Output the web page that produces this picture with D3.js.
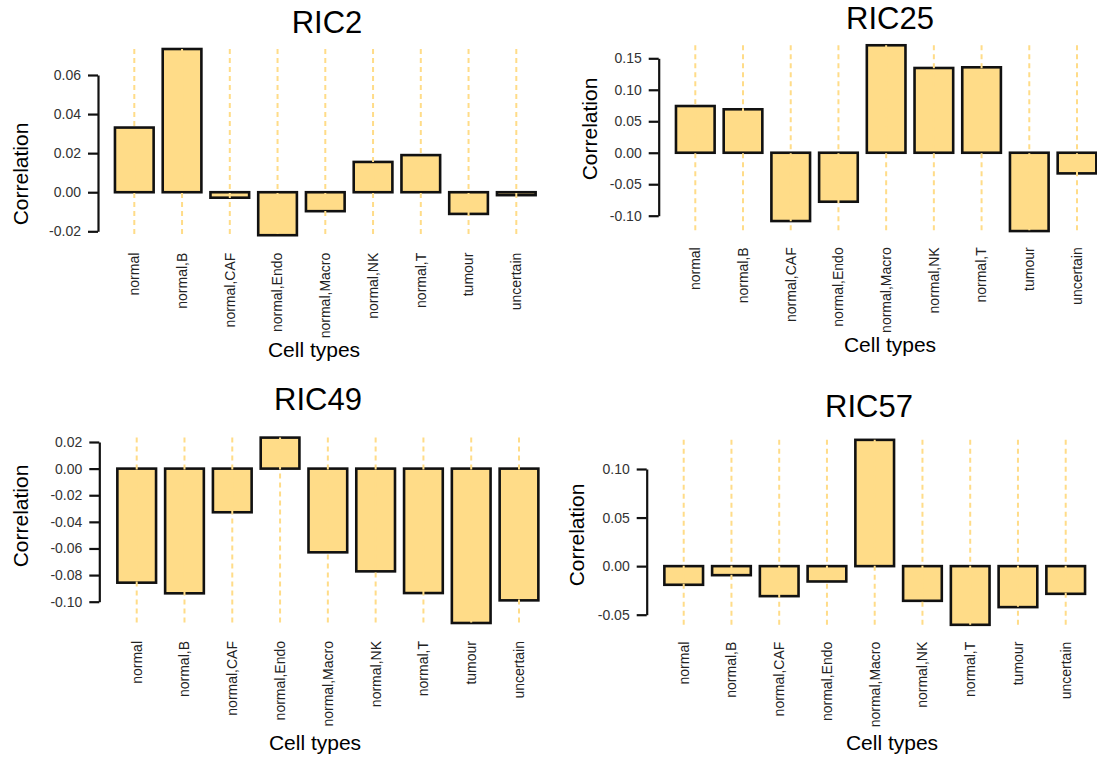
<!DOCTYPE html>
<html>
<head>
<meta charset="utf-8">
<script src="https://cdn.jsdelivr.net/npm/d3@7"></script>
<style>
  html, body { margin: 0; padding: 0; background: #fff; }
  svg { display: block; font-family: "Liberation Sans", Arial, sans-serif; }
</style>
</head>
<body>
<svg id="chart" width="1097" height="758"></svg>
<script>
// Cell-type correlations for four RIC components
const categories = ["normal", "normal,B", "normal,CAF", "normal,Endo", "normal,Macro",
                    "normal,NK", "normal,T", "tumour", "uncertain"];

const ric2Values  = [0.0331, 0.0733, -0.0028, -0.0220, -0.0097, 0.0155, 0.0190, -0.0111, -0.0015];
const ric25Values = [0.0742, 0.0690, -0.1085, -0.0778, 0.1707, 0.1346, 0.1357, -0.1244, -0.0328];
const ric49Values = [-0.0857, -0.0937, -0.0328, 0.0233, -0.0629, -0.0772, -0.0935, -0.1160, -0.0990];
const ric57Values = [-0.0192, -0.0093, -0.0309, -0.0158, 0.1300, -0.0357, -0.0604, -0.0422, -0.0285];

const ric2Ticks  = [-0.02, 0.00, 0.02, 0.04, 0.06];
const ric25Ticks = [-0.10, -0.05, 0.00, 0.05, 0.10, 0.15];
const ric49Ticks = [-0.10, -0.08, -0.06, -0.04, -0.02, 0.00, 0.02];
const ric57Ticks = [-0.05, 0.00, 0.05, 0.10];

const panelTitles = ["RIC2", "RIC25", "RIC49", "RIC57"];
const xLabel = "Cell types";
const yLabel = "Correlation";

// Panel geometry (pixels)
const panels = [
  { title: panelTitles[0], values: ric2Values, ticks: ric2Ticks,
    x0: 134.3, x1: 516.3, yLo: 231.3, yHi: 75.0, axisX: 98.0,
    titleX: 327, titleY: 33, catTop: 252.7, xlabX: 314, xlabY: 357, ylabX: 28, ylabY: 174 },
  { title: panelTitles[1], values: ric25Values, ticks: ric25Ticks,
    x0: 695.3, x1: 1077.0, yLo: 215.7, yHi: 58.3, axisX: 658.7,
    titleX: 890, titleY: 28.5, catTop: 247.3, xlabX: 890, xlabY: 352, ylabX: 597, ylabY: 129 },
  { title: panelTitles[2], values: ric49Values, ticks: ric49Ticks,
    x0: 136.7, x1: 519.0, yLo: 601.7, yHi: 442.0, axisX: 99.3,
    titleX: 318, titleY: 410, catTop: 641.0, xlabX: 315, xlabY: 750, ylabX: 28, ylabY: 516 },
  { title: panelTitles[3], values: ric57Values, ticks: ric57Ticks,
    x0: 683.7, x1: 1065.7, yLo: 614.7, yHi: 469.0, axisX: 646.7,
    titleX: 869, titleY: 417, catTop: 641.7, xlabX: 892, xlabY: 750, ylabX: 584, ylabY: 535 }
];

const barFill = "#FFDC88";
const fmt = d3.formatLocale({ decimal: ".", thousands: ",", grouping: [3],
                              currency: ["", ""], minus: "-" }).format(".2f");

const svg = d3.select("#chart");

panels.forEach(p => {
  const g = svg.append("g");

  const x = d3.scalePoint().domain(categories).range([p.x0, p.x1]);
  const barW = x.step() * 0.81;
  const tMin = d3.min(p.ticks), tMax = d3.max(p.ticks);
  const y = d3.scaleLinear().domain([tMin, tMax]).range([p.yLo, p.yHi]);

  // Bars
  g.selectAll("rect.bar")
    .data(categories.map((c, i) => ({ c, v: p.values[i] })))
    .join("rect")
    .attr("class", "bar")
    .attr("x", d => x(d.c) - barW / 2)
    .attr("y", d => Math.min(y(d.v), y(0)))
    .attr("width", barW)
    .attr("height", d => Math.abs(y(d.v) - y(0)))
    .attr("fill", barFill)
    .attr("stroke", "#111")
    .attr("stroke-width", 2.6);

  // Dashed guide lines over each category
  const vMin = d3.min(p.values), vMax = d3.max(p.values);
  g.selectAll("line.guide")
    .data(categories)
    .join("line")
    .attr("class", "guide")
    .attr("x1", d => x(d)).attr("x2", d => x(d))
    .attr("y1", y(vMax)).attr("y2", y(vMin))
    .attr("stroke", barFill)
    .attr("stroke-width", 2)
    .attr("stroke-dasharray", "5,4");

  // Y axis
  const axis = d3.axisLeft(y).tickValues(p.ticks).tickFormat(fmt)
    .tickSizeInner(10).tickSizeOuter(0).tickPadding(7);
  const ax = g.append("g").attr("transform", `translate(${p.axisX},0)`).call(axis);
  ax.select(".domain").attr("stroke", "#111").attr("stroke-width", 2.2);
  ax.selectAll(".tick line").attr("stroke", "#111").attr("stroke-width", 2.2);
  ax.selectAll(".tick text")
    .attr("fill", "#333")
    .style("font-size", "14px")
    .style("font-family", "'Liberation Sans', Arial, sans-serif");

  // Category labels, rotated
  g.selectAll("text.cat")
    .data(categories)
    .join("text")
    .attr("class", "cat")
    .attr("transform", d => `translate(${x(d)},${p.catTop}) rotate(-90)`)
    .attr("text-anchor", "end")
    .attr("dy", "0.35em")
    .attr("fill", "#222")
    .style("font-size", "14px")
    .text(d => d);

  // Title
  g.append("text")
    .attr("x", p.titleX).attr("y", p.titleY)
    .attr("text-anchor", "middle")
    .attr("fill", "#000")
    .style("font-size", "31px")
    .text(p.title);

  // Axis titles
  g.append("text")
    .attr("x", p.xlabX).attr("y", p.xlabY)
    .attr("text-anchor", "middle")
    .attr("fill", "#000")
    .style("font-size", "21px")
    .text(xLabel);

  g.append("text")
    .attr("transform", `translate(${p.ylabX},${p.ylabY}) rotate(-90)`)
    .attr("text-anchor", "middle")
    .attr("fill", "#000")
    .style("font-size", "21px")
    .text(yLabel);
});
</script>
</body>
</html>
